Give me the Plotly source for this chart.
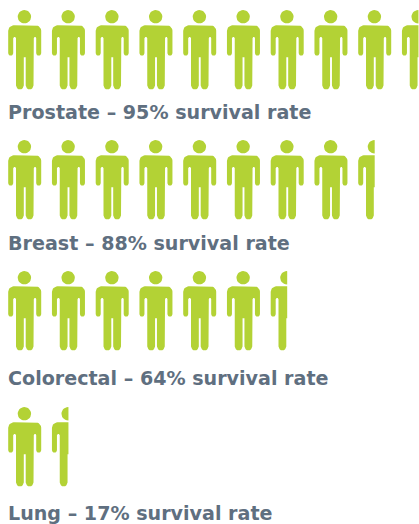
import math
import plotly.graph_objects as go

categories = ["Prostate", "Breast", "Colorectal", "Lung"]
survival_rates = [95, 88, 64, 17]
icons_shown = [9.5, 8.5, 6.5, 1.5]

W, H = 419, 524
GREEN = "#b3d235"
SLATE = "#5f6f80"
ROW_TOPS = [10.3, 140.3, 271.3, 407.3]
LABEL_Y = [112.5, 243, 378.5, 513]
LEFT = 8.2
PITCH = 43.75
ICON_W = 33.0


def arc(cx, cy, r, a0, a1, n=8):
    return [(cx + r * math.cos(math.radians(a0 + (a1 - a0) * i / n)),
             cy + r * math.sin(math.radians(a0 + (a1 - a0) * i / n))) for i in range(n + 1)]


def person():
    head = arc(16.2, 6.5, 6.7, 0, 360, 28)[:-1]
    b = []
    b += arc(5.5, 20.5, 5.5, 180, 270)          # left shoulder
    b += arc(27.5, 20.5, 5.5, 270, 360)         # right shoulder
    b += arc(30.5, 43.0, 2.5, 0, 180)           # right hand
    b += [(28.0, 28.0), (27.4, 26.6), (26.3, 26.6), (25.6, 28.0)]
    b += arc(21.4, 75.3, 3.9, 0, 180)           # right leg foot
    b += [(17.5, 47.0), (15.6, 47.0)]
    b += arc(11.7, 75.3, 3.9, 0, 180)           # left leg foot
    b += [(7.8, 28.0), (7.0, 26.6), (5.9, 26.6), (5.0, 28.0)]
    b += arc(2.5, 43.0, 2.5, 0, 180)            # left hand
    return [head, b]


def clip_right(poly, xmax):
    out = []
    for i, p in enumerate(poly):
        q = poly[(i + 1) % len(poly)]
        p_in, q_in = p[0] <= xmax, q[0] <= xmax
        if p_in:
            out.append(p)
        if p_in != q_in:
            t = (xmax - p[0]) / (q[0] - p[0])
            out.append((xmax, p[1] + t * (q[1] - p[1])))
    return out


PERSON = person()
fig = go.Figure()

for cat, rate, shown, top, ly in zip(categories, survival_rates, icons_shown, ROW_TOPS, LABEL_Y):
    xs, ys = [], []
    i = 0
    while i < shown:
        frac = min(1.0, shown - i)
        for part in PERSON:
            poly = clip_right(part, ICON_W * frac)
            if not poly:
                continue
            xs += [LEFT + i * PITCH + p[0] for p in poly] + [LEFT + i * PITCH + poly[0][0], None]
            ys += [top + p[1] for p in poly] + [top + poly[0][1], None]
        i += 1
    fig.add_trace(go.Scatter(x=xs, y=ys, mode="lines", fill="toself", fillcolor=GREEN,
                             line=dict(width=0, color=GREEN), hoverinfo="skip", showlegend=False, name=cat))
    fig.add_annotation(x=LEFT - 2, y=ly, xref="x", yref="y", xanchor="left", yanchor="middle", showarrow=False,
                       text=f"<b>{cat} – {rate}% survival rate</b>", align="left",
                       font=dict(family="DejaVu Sans", size=19.1, color=SLATE))

fig.update_layout(
    width=W, height=H, margin=dict(l=0, r=0, t=0, b=0),
    paper_bgcolor="white", plot_bgcolor="white", showlegend=False,
    xaxis=dict(range=[0, W], visible=False, fixedrange=True),
    yaxis=dict(range=[H, 0], visible=False, fixedrange=True),
)
fig.write_html("out.html", config={"displayModeBar": False},
               post_script="document.body.style.margin='0';document.documentElement.style.overflow='hidden';")
